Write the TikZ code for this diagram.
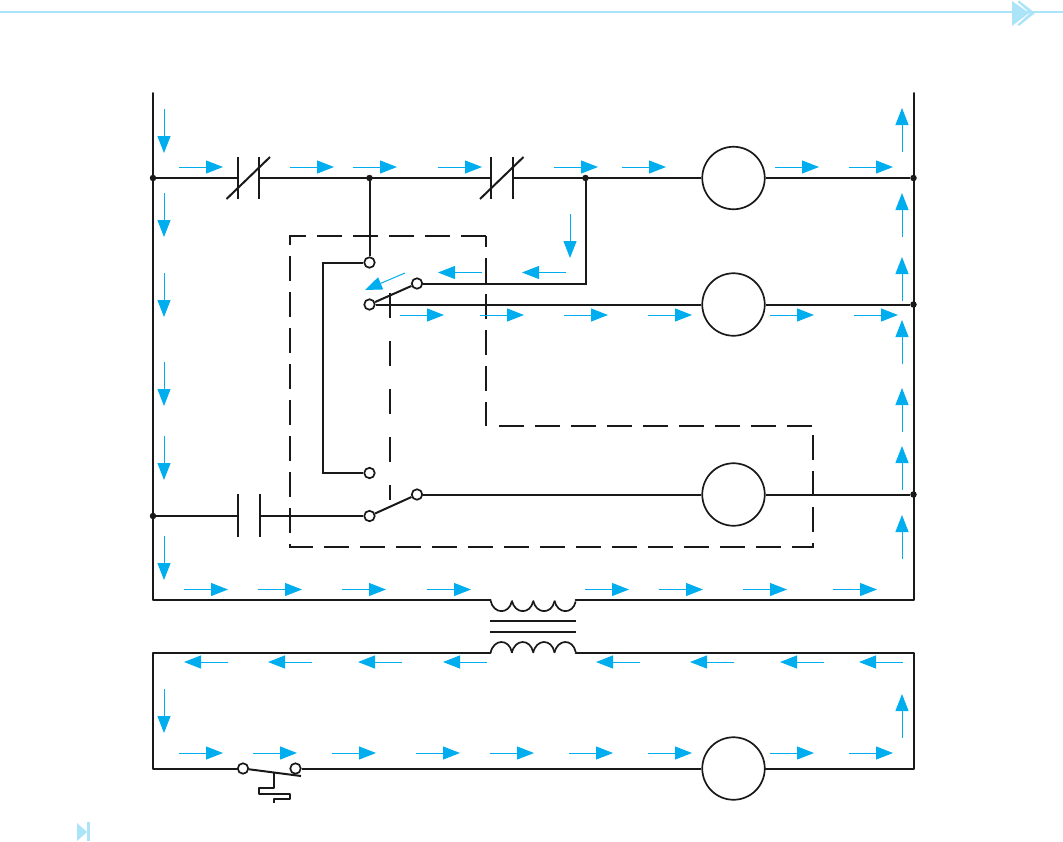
\documentclass[tikz,border=0pt]{standalone}
\usepackage{tikz}
\usetikzlibrary{arrows.meta}
\definecolor{flowblue}{HTML}{00AEEF}
\definecolor{pagetint}{HTML}{ABE4F9}
\tikzset{
  x=1pt, y=-1pt,
  wire/.style={draw=black!90, line width=2pt},
  link/.style={draw=black!90, line width=2pt, dash pattern=on 25pt off 11pt},
  flow/.style={draw=flowblue, line width=1pt, -{Triangle[length=17pt,width=13pt]}},
  junction/.style={circle, fill=black!90, inner sep=0pt, minimum size=6.5pt},
  terminal/.style={circle, draw=black!90, fill=white, line width=1.7pt, inner sep=0pt, minimum size=10.5pt},
  load/.style={circle, draw=black!90, fill=white, line width=1.7pt, inner sep=0pt, minimum size=62.5pt}}

\begin{document}
\begin{tikzpicture}
\useasboundingbox (0,0) rectangle (1063,841);
%% page furniture
\fill[pagetint] (0,11.2) rectangle (1063,13.2);
\fill[pagetint] (1012,1) -- (1029,13) -- (1012,26) -- cycle;
\fill[pagetint] (1019,0.5) -- (1035,13) -- (1019,26) -- (1017.5,24.5) -- (1030,13) -- (1017.5,2) -- cycle;
\fill[pagetint] (77,823) -- (87,832) -- (77,841) -- cycle;
\fill[pagetint] (87,822) rectangle (89.5,841);

%% rails and corners
\coordinate (railtopL) at (153,93);
\coordinate (railtopR) at (913.5,93);
\coordinate (railbotL) at (153,600);
\coordinate (railbotR) at (913.5,600);
\coordinate (boxtopL) at (153,653);
\coordinate (boxtopR) at (913.5,653);
\coordinate (boxbotL) at (153,768.5);
\coordinate (boxbotR) at (913.5,768.5);

%% junctions, terminals, coils
\node[junction] (j1L) at (153,178) {};
\node[junction] (j1a) at (369.5,178) {};
\node[junction] (j1b) at (585.5,178) {};
\node[junction] (j1R) at (913.5,178) {};
\node[junction] (j2R) at (913.5,304.5) {};
\node[junction] (j3L) at (153,516) {};
\node[junction] (j3R) at (913.5,494.5) {};
\node[load] (coilA) at (733.5,178) {};
\node[load] (coilB) at (733.5,304.5) {};
\node[load] (coilC) at (733.5,494.5) {};
\node[load] (coilD) at (733.5,768.5) {};
\node[terminal] (t1) at (369.5,262.5) {};
\node[terminal] (t2) at (369.5,304.5) {};
\node[terminal] (t3) at (417,283.5) {};
\node[terminal] (t4) at (369.5,473) {};
\node[terminal] (t5) at (369.5,516) {};
\node[terminal] (t6) at (417,494.5) {};
\node[terminal] (t7) at (243,768.5) {};
\node[terminal] (t8) at (295.5,768.5) {};

%% contact plates
\coordinate (ol1) at (237.5,178);
\coordinate (ol2) at (259,178);
\coordinate (ol3) at (491,178);
\coordinate (ol4) at (512.5,178);
\coordinate (cc1) at (238,516);
\coordinate (cc2) at (259.5,516);
\coordinate (bend1) at (322.5,262.5);
\coordinate (bend2) at (322.5,473);
\coordinate (bend3) at (585.5,283.5);

%% mechanical link (dashed, goes behind the wiring)
\draw[link] (486,236) -- (290,236) -- (290,546.5) -- (813,546.5) -- (813,426);
\draw[link] (811.5,426) -- (497,426);
\draw[link, dash phase=14pt] (486,236) -- (486,426);
\draw[link, dash pattern=on 25pt off 23pt] (390,293) -- (390,500);

%% rung wiring
\draw[wire, line cap=round, line join=round] (railtopL) -- (railbotL) -- (490.5,600);
\draw[wire, line cap=round, line join=round] (railtopR) -- (railbotR) -- (575.5,600);
\draw[wire] (j1L) -- (ol1);
\draw[wire] (ol2) -- (ol3);
\draw[wire] (ol4) -- (coilA);
\draw[wire] (coilA) -- (j1R);
\draw[wire] (j1a) -- (t1);
\draw[wire] (t1) -- (bend1) -- (bend2) -- (t4);
\draw[wire] (j1b) -- (bend3) -- (t3);
\draw[wire] (t2) -- (t3);
\draw[wire] (t2) -- (coilB);
\draw[wire] (coilB) -- (j2R);
\draw[wire] (j3L) -- (cc1);
\draw[wire] (cc2) -- (t5);
\draw[wire] (t5) -- (t6);
\draw[wire] (t6) -- (coilC);
\draw[wire] (coilC) -- (j3R);
\draw[wire, line cap=round, line join=round] (490.5,653) -- (boxtopL) -- (boxbotL) -- (t7);
\draw[wire, line cap=round, line join=round] (575.5,653) -- (boxtopR) -- (boxbotR) -- (coilD);
\draw[wire] (t8) -- (coilD);

%% contacts
\draw[wire] (237.5,157) -- (237.5,199);
\draw[wire] (259,157) -- (259,199);
\draw[wire] (226.5,199) -- (270,157);
\draw[wire] (491,157) -- (491,199);
\draw[wire] (512.5,157) -- (512.5,199);
\draw[wire] (480,199) -- (523.5,157);
\draw[wire] (238,494) -- (238,537);
\draw[wire] (259.5,494) -- (259.5,537);

%% push button
\draw[wire] (t7) -- (301,776);
\draw[wire, line join=round] (274,772.5) -- (274,788) -- (259,788) -- (259,793.5) -- (290,793.5) -- (290,798.5) -- (274,798.5) -- (274,803);

%% transformer
\foreach \x in {490.5,511.8,533.1,554.4} {
  \draw[wire, line width=1.7pt] (\x,600.5) .. controls (\x+3,614.5) and (\x+18.5,614.5) .. (\x+21.3,601.5);
  \draw[wire, line width=1.7pt] (\x,653) .. controls (\x+3,638.5) and (\x+18.5,638.5) .. (\x+21.3,652);
}
\draw[wire] (490,621) -- (576,621);
\draw[wire] (490,632) -- (576,632);

%% current flow arrows
\foreach \x in {179,290,353,438,554,622,775,849} \draw[flow] (\x,167) -- ++(44,0);
\foreach \x in {400,480,564,648,770,854} \draw[flow] (\x,315) -- ++(44,0);
\foreach \x in {184,258,342,427,585,659,743,833} \draw[flow] (\x,589.5) -- ++(44,0);
\foreach \x in {179,253,332,416,490,569,648,770,849} \draw[flow] (\x,753) -- ++(44,0);
\foreach \x in {228,312,402,487,640,734,824,903} \draw[flow] (\x,662) -- ++(-44,0);
\foreach \x in {482,566} \draw[flow] (\x,272.5) -- ++(-44,0);
\foreach \y in {109,193,273,362,436,536,689} \draw[flow] (164,\y) -- ++(0,44);
\draw[flow] (570,214) -- ++(0,44);
\foreach \y in {152,237,301,364,432,490,559,738} \draw[flow] (902,\y) -- ++(0,-44);
\draw[flow] (405,273) -- (365,290);
\end{tikzpicture}
\end{document}
